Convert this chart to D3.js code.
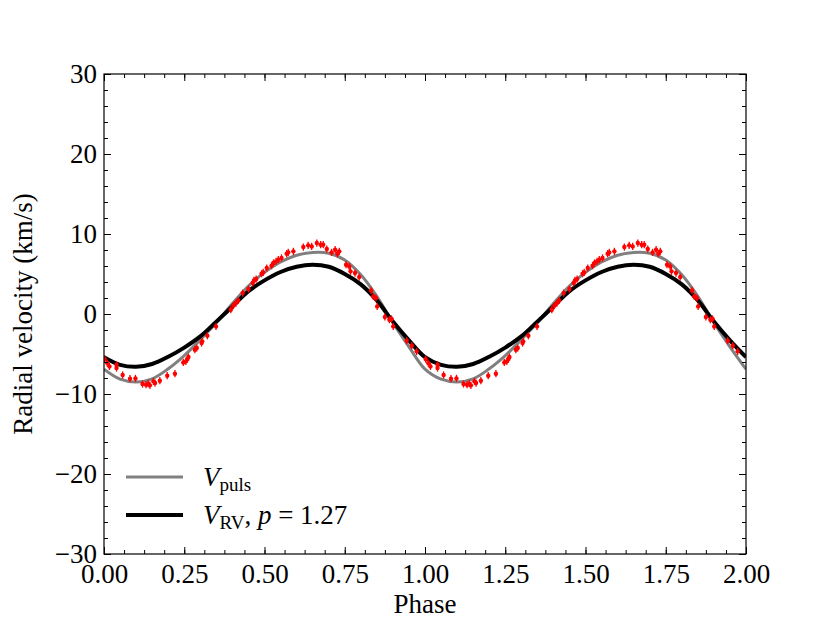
<!DOCTYPE html>
<html>
<head>
<meta charset="utf-8">
<script src="https://cdn.jsdelivr.net/npm/d3@7"></script>
<style>
  body { margin: 0; background: #fff; }
  svg text { font-family: "Liberation Serif", "DejaVu Serif", serif; fill: #000; }
  .axis path { display: none; }
  .axis line { stroke: #000; stroke-width: 1; }
</style>
</head>
<body>
<svg width="830" height="623"></svg>
<script>
// model curves over one pulsation cycle
var modelPhase = [0.00, 0.05, 0.10, 0.15, 0.20, 0.25, 0.30, 0.35, 0.40, 0.45, 0.50,
                  0.55, 0.60, 0.65, 0.70, 0.75, 0.80, 0.85, 0.90, 0.95, 1.00];
var vPuls = [-6.9, -8.15, -8.5, -8.1, -6.85, -5.2, -3.2, -1.1, 1.3, 3.5, 5.2,
             6.5, 7.35, 7.7, 7.6, 6.75, 4.9, 2.2, -1.1, -4.1, -6.9];
var vRV = [-5.4, -6.35, -6.6, -6.25, -5.35, -4.2, -2.8, -0.95, 0.95, 2.85, 4.2,
           5.25, 5.9, 6.15, 5.9, 5.0, 3.7, 1.7, -0.95, -3.3, -5.4];

// observed radial velocities (folded phase, km/s)
var obsPhase = [0.002, 0.010, 0.017, 0.039, 0.039, 0.058, 0.081, 0.098, 0.120, 0.131,
                0.138, 0.143, 0.154, 0.159, 0.174, 0.197, 0.221, 0.247, 0.255, 0.260,
                0.263, 0.283, 0.289, 0.304, 0.306, 0.322, 0.349, 0.395, 0.403, 0.411,
                0.418, 0.432, 0.450, 0.463, 0.467, 0.474, 0.491, 0.496, 0.507, 0.522,
                0.528, 0.536, 0.543, 0.553, 0.569, 0.574, 0.590, 0.621, 0.636, 0.647,
                0.663, 0.675, 0.683, 0.694, 0.709, 0.720, 0.727, 0.733, 0.754, 0.764,
                0.768, 0.782, 0.795, 0.832, 0.839, 0.847, 0.851, 0.875, 0.889, 0.896,
                0.901, 0.943, 0.959, 0.974];
var obsRV = [-5.63, -6.13, -6.55, -6.34, -6.75, -7.63, -8.09, -8.05, -8.75, -8.84,
             -8.71, -8.92, -8.42, -8.63, -8.34, -7.71, -7.46, -6.05, -5.92, -5.63,
             -5.38, -4.46, -4.25, -3.63, -3.42, -2.71, -1.55, 0.54, 1.04, 1.37,
             1.7, 2.62, 3.12, 3.87, 4.2, 4.37, 5.04, 5.2, 5.75, 6.04,
             6.37, 6.58, 6.79, 7.0, 7.54, 7.7, 7.83, 8.37, 8.58, 8.45,
             8.87, 8.66, 8.66, 8.12, 7.7, 8.04, 7.54, 7.83, 6.16, 5.95,
             5.33, 5.12, 4.62, 2.95, 2.2, 2.0, 0.95, -0.37, -0.71, -0.62,
             -1.55, -3.34, -3.96, -4.67];
var obsErr = 0.45;

var cycles = [0, 1];
var xTicks = [0, 0.25, 0.5, 0.75, 1.0, 1.25, 1.5, 1.75, 2.0];
var yTicks = [-30, -20, -10, 0, 10, 20, 30];

var svg = d3.select("svg"),
    margin = { top: 74, right: 84, bottom: 69, left: 104 },
    width = +svg.attr("width") - margin.left - margin.right,
    height = +svg.attr("height") - margin.top - margin.bottom;

var x = d3.scaleLinear().domain([0, 2]).range([0, width]);
var y = d3.scaleLinear().domain([-30, 30]).range([height, 0]);

svg.append("defs").append("clipPath")
    .attr("id", "clip")
    .append("rect")
    .attr("width", width)
    .attr("height", height);

var g = svg.append("g")
    .attr("transform", "translate(" + margin.left + "," + margin.top + ")");

// unfold one cycle onto both plotted cycles
function unfold(ph, vals, skipLast) {
    var out = [];
    cycles.forEach(function (k, ci) {
        ph.forEach(function (p, i) {
            if (skipLast && ci > 0 && i === 0) return;
            out.push({ x: p + k, y: vals[i] });
        });
    });
    return out;
}

var line = d3.line()
    .x(function (d) { return x(d.x); })
    .y(function (d) { return y(d.y); })
    .curve(d3.curveCatmullRom);

var plot = g.append("g").attr("clip-path", "url(#clip)");

plot.append("path")
    .datum(unfold(modelPhase, vPuls, true))
    .attr("fill", "none")
    .attr("stroke", "#808080")
    .attr("stroke-width", 3)
    .attr("d", line);

plot.append("path")
    .datum(unfold(modelPhase, vRV, true))
    .attr("fill", "none")
    .attr("stroke", "#000")
    .attr("stroke-width", 4)
    .attr("d", line);

var obs = unfold(obsPhase, obsRV, false);

plot.selectAll(".err")
    .data(obs)
    .enter().append("line")
    .attr("class", "err")
    .attr("x1", function (d) { return x(d.x); })
    .attr("x2", function (d) { return x(d.x); })
    .attr("y1", function (d) { return y(d.y - obsErr); })
    .attr("y2", function (d) { return y(d.y + obsErr); })
    .attr("stroke", "red")
    .attr("stroke-width", 1.3);

plot.selectAll(".pt")
    .data(obs)
    .enter().append("circle")
    .attr("class", "pt")
    .attr("cx", function (d) { return x(d.x); })
    .attr("cy", function (d) { return y(d.y); })
    .attr("r", 2.2)
    .attr("fill", "red");

// axes: inward ticks on all four sides
var xMinor = d3.range(0, 2.0001, 0.0625);
var yMinor = d3.range(-30, 30.0001, 2);

g.append("g").attr("class", "axis")
    .attr("transform", "translate(0," + height + ")")
    .call(d3.axisBottom(x).tickValues(xMinor).tickSize(-4).tickFormat(""));
g.append("g").attr("class", "axis")
    .call(d3.axisTop(x).tickValues(xMinor).tickSize(-4).tickFormat(""));
g.append("g").attr("class", "axis")
    .call(d3.axisLeft(y).tickValues(yMinor).tickSize(-4).tickFormat(""));
g.append("g").attr("class", "axis")
    .attr("transform", "translate(" + width + ",0)")
    .call(d3.axisRight(y).tickValues(yMinor).tickSize(-4).tickFormat(""));

g.append("g").attr("class", "axis")
    .attr("transform", "translate(0," + height + ")")
    .call(d3.axisBottom(x).tickValues(xTicks).tickSize(-7).tickPadding(10).tickFormat(d3.format(".2f")))
    .selectAll("text").style("font-size", "27px");
g.append("g").attr("class", "axis")
    .call(d3.axisTop(x).tickValues(xTicks).tickSize(-7).tickFormat(""));
g.append("g").attr("class", "axis")
    .call(d3.axisLeft(y).tickValues(yTicks).tickSize(-7).tickPadding(7).tickFormat(d3.format("d")))
    .selectAll("text").style("font-size", "27px");
g.append("g").attr("class", "axis")
    .attr("transform", "translate(" + width + ",0)")
    .call(d3.axisRight(y).tickValues(yTicks).tickSize(-7).tickFormat(""));

g.selectAll(".axis text").attr("font-family", null);

g.append("rect")
    .attr("width", width)
    .attr("height", height)
    .attr("fill", "none")
    .attr("stroke", "#000")
    .attr("stroke-width", 1.2);

// axis labels
svg.append("text")
    .attr("x", margin.left + width / 2)
    .attr("y", 613)
    .attr("text-anchor", "middle")
    .style("font-size", "27px")
    .text("Phase");

svg.append("text")
    .attr("transform", "translate(32," + (margin.top + height / 2) + ") rotate(-90)")
    .attr("text-anchor", "middle")
    .style("font-size", "27px")
    .text("Radial velocity (km/s)");

// legend
var legend = g.append("g").attr("transform", "translate(22,403)");
var items = [
    { color: "#808080", w: 3, sub: "puls", rest: "" },
    { color: "#000", w: 4, sub: "RV", rest: "1.27" }
];
items.forEach(function (d, i) {
    var row = legend.append("g").attr("transform", "translate(0," + (i * 38) + ")");
    row.append("line")
        .attr("x1", 0).attr("x2", 57)
        .attr("stroke", d.color)
        .attr("stroke-width", d.w);
    var t = row.append("text")
        .attr("x", 77)
        .attr("y", 9)
        .style("font-size", "27px");
    t.append("tspan").style("font-style", "italic").text("V");
    t.append("tspan").attr("dy", 5).style("font-size", "19px").text(d.sub);
    if (d.rest) {
        t.append("tspan").attr("dy", -5).text(", ");
        t.append("tspan").style("font-style", "italic").text("p");
        t.append("tspan").text(" = " + d.rest);
    }
});
</script>
</body>
</html>
